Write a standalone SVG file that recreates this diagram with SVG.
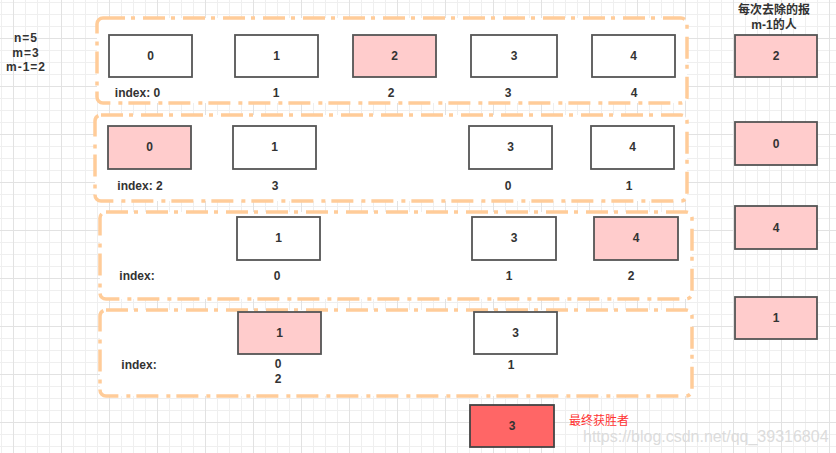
<svg xmlns="http://www.w3.org/2000/svg" width="836" height="453" viewBox="0 0 836 453">
<defs>
<pattern id="minor" patternUnits="userSpaceOnUse" x="1" y="2" width="12" height="12">
<path d="M0.5 0V12M0 0.5H12" fill="none" stroke="#efefef" stroke-width="1"/>
</pattern>
<pattern id="major" patternUnits="userSpaceOnUse" x="13" y="38" width="48" height="48">
<path d="M0.5 0V48M0 0.5H48" fill="none" stroke="#e2e2e2" stroke-width="1"/>
</pattern>
<style>
.t{font-family:"Liberation Sans","Noto Sans CJK SC",Arial,sans-serif;font-size:12px;font-weight:bold;fill:#333;text-anchor:middle;dominant-baseline:central}
.box{fill:#fff;stroke:#555;stroke-width:1.8}
.hit{fill:#ffcccc;stroke:#555;stroke-width:1.8}
.win{fill:#ff6666;stroke:#444;stroke-width:1.8}
.grp{fill:#fff;stroke:#ffcc99;stroke-width:3.5;stroke-dasharray:22 6 4 8}
</style>
</defs>
<rect width="836" height="453" fill="#fff"/>
<rect width="836" height="453" fill="url(#minor)"/>
<rect width="836" height="453" fill="url(#major)"/>

<g id="params">
<text class="t" x="26" y="38" style="letter-spacing:1px">n=5</text>
<text class="t" x="26" y="53" style="letter-spacing:1px">m=3</text>
<text class="t" x="26" y="67" style="letter-spacing:1px">m-1=2</text>
</g>

<g id="round1">
<rect class="grp" x="97" y="18" width="590" height="85" rx="6"/>
<g id="r1n0"><rect class="box" x="109" y="35" width="83" height="42"/><text class="t" x="150.5" y="56">0</text></g>
<g id="r1n1"><rect class="box" x="235" y="35" width="83" height="42"/><text class="t" x="276.5" y="56">1</text></g>
<g id="r1n2"><rect class="hit" x="353" y="35" width="83" height="42"/><text class="t" x="394.5" y="56">2</text></g>
<g id="r1n3"><rect class="box" x="471" y="35" width="86" height="42"/><text class="t" x="514" y="56">3</text></g>
<g id="r1n4"><rect class="box" x="592" y="35" width="83" height="42"/><text class="t" x="633.5" y="56">4</text></g>
<text class="t" x="137.5" y="93">index: 0</text>
<text class="t" x="276" y="93">1</text>
<text class="t" x="391" y="93">2</text>
<text class="t" x="508" y="93">3</text>
<text class="t" x="634" y="93">4</text>
</g>

<g id="round2">
<rect class="grp" x="95" y="115" width="592" height="86" rx="6"/>
<g id="r2n0"><rect class="hit" x="108" y="126" width="83" height="43"/><text class="t" x="149.5" y="147">0</text></g>
<g id="r2n1"><rect class="box" x="233" y="126" width="83" height="43"/><text class="t" x="274.5" y="147">1</text></g>
<g id="r2n3"><rect class="box" x="469" y="126" width="83" height="43"/><text class="t" x="510.5" y="147">3</text></g>
<g id="r2n4"><rect class="box" x="591" y="126" width="83" height="43"/><text class="t" x="632.5" y="147">4</text></g>
<text class="t" x="140" y="186">index: 2</text>
<text class="t" x="275" y="186">3</text>
<text class="t" x="508" y="186">0</text>
<text class="t" x="629" y="186">1</text>
</g>

<g id="round3">
<rect class="grp" x="100" y="212" width="592" height="87" rx="6"/>
<g id="r3n1"><rect class="box" x="237" y="217" width="83" height="43"/><text class="t" x="278.5" y="238">1</text></g>
<g id="r3n3"><rect class="box" x="472" y="217" width="84" height="43"/><text class="t" x="514" y="238">3</text></g>
<g id="r3n4"><rect class="hit" x="594" y="217" width="84" height="43"/><text class="t" x="636" y="238">4</text></g>
<text class="t" x="137" y="276">index:</text>
<text class="t" x="277" y="276">0</text>
<text class="t" x="509" y="276">1</text>
<text class="t" x="631" y="276">2</text>
</g>

<g id="round4">
<rect class="grp" x="100" y="310" width="592" height="86" rx="6"/>
<g id="r4n1"><rect class="hit" x="238" y="312" width="83" height="42"/><text class="t" x="279.5" y="333">1</text></g>
<g id="r4n3"><rect class="box" x="474" y="312" width="83" height="42"/><text class="t" x="515.5" y="333">3</text></g>
<text class="t" x="139" y="365">index:</text>
<text class="t" x="278" y="364">0</text>
<text class="t" x="278" y="379">2</text>
<text class="t" x="511" y="365">1</text>
</g>

<g id="removed">
<text class="t" x="774" y="10">每次去除的报</text>
<text class="t" x="774" y="25">m-1的人</text>
<g id="rm2"><rect class="hit" x="735" y="35" width="82" height="42"/><text class="t" x="776" y="56">2</text></g>
<g id="rm0"><rect class="hit" x="735" y="122" width="82" height="43"/><text class="t" x="776" y="143.5">0</text></g>
<g id="rm4"><rect class="hit" x="735" y="206" width="82" height="43"/><text class="t" x="776" y="227.5">4</text></g>
<g id="rm1"><rect class="hit" x="735" y="297" width="82" height="42"/><text class="t" x="776" y="318">1</text></g>
</g>

<g id="winner">
<rect class="win" x="470" y="405" width="84" height="42"/>
<text class="t" x="512" y="426">3</text>
<text class="t" x="599" y="421" style="fill:#ff3333;font-weight:normal">最终获胜者</text>
</g>

<g id="connectors"/>

<text x="583" y="442" style="font-family:'Liberation Sans',Arial,sans-serif;font-size:16px;fill:#dcdcdc">https://blog.csdn.net/qq_39316804</text>
</svg>
